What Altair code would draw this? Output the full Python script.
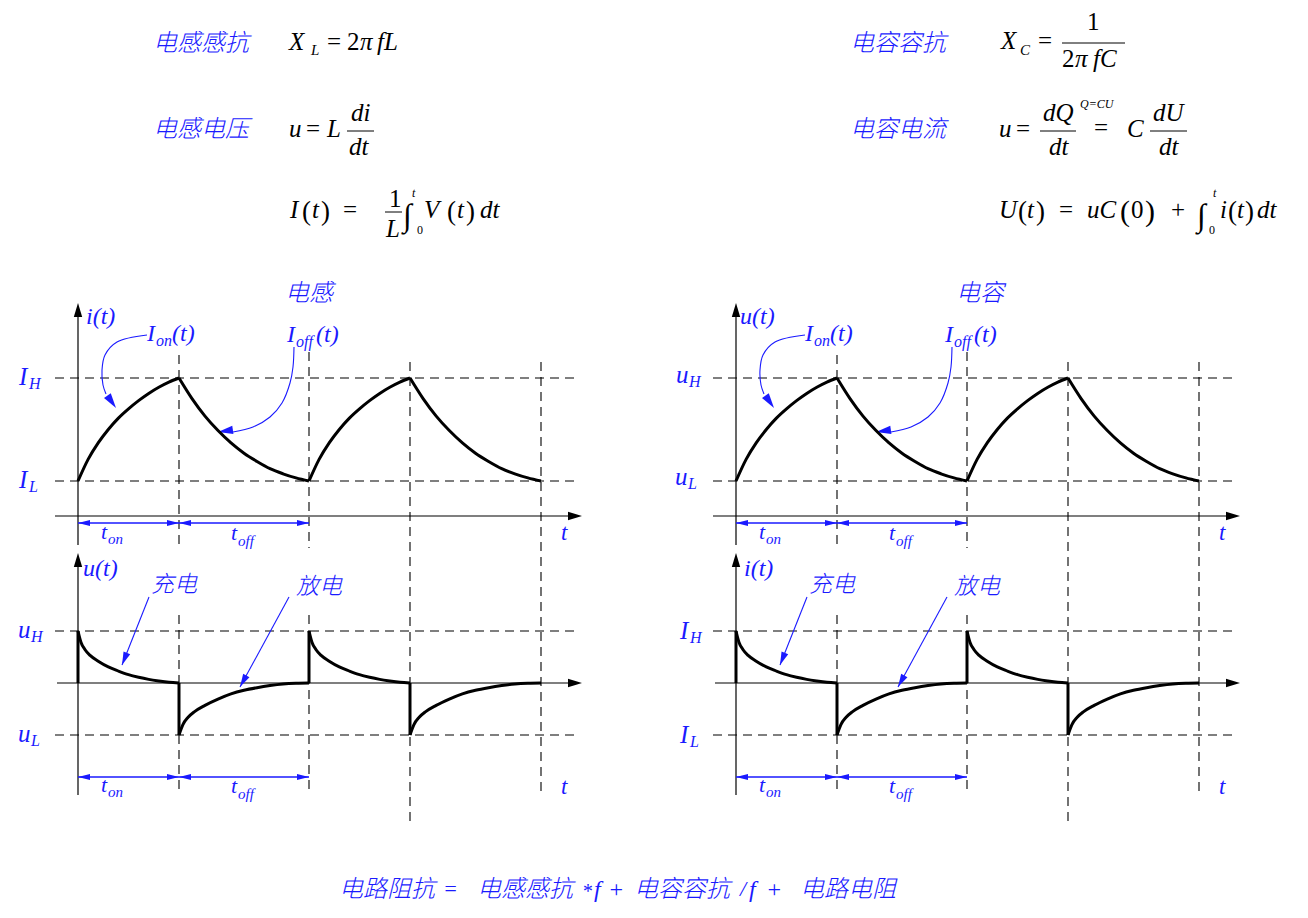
import altair as alt
import pandas as pd

W, H = 1308, 918
BLUE = "#1a1aff"
BLACK = "#000000"
SERIF = "Liberation Serif"
CJK = "Noto Sans CJK SC"

# ---------------- waveform shapes ----------------
# position inside one t_on / t_off interval (0..1) and normalised level
STEP_T = [0.0, 0.1, 0.2, 0.3, 0.4, 0.5, 0.6, 0.7, 0.8, 0.9, 1.0]
RISE_V = [0.0, 0.21, 0.37, 0.50, 0.61, 0.70, 0.78, 0.85, 0.91, 0.96, 1.0]   # low -> high
FALL_V = [1.0, 0.80, 0.63, 0.49, 0.37, 0.27, 0.19, 0.12, 0.07, 0.03, 0.0]   # high -> low
PULSE_T = [0.0, 0.03, 0.07, 0.12, 0.2, 0.3, 0.4, 0.5, 0.6, 0.7, 0.8, 0.9, 1.0]
PULSE_POS = [1.0, 0.78, 0.64, 0.53, 0.42, 0.31, 0.23, 0.16, 0.11, 0.07, 0.04, 0.015, 0.0]
PULSE_NEG = [-1.0, -0.80, -0.66, -0.55, -0.43, -0.31, -0.21, -0.14, -0.09, -0.05, -0.02, -0.005, 0.0]
TOP_SEQ = ["rise", "fall", "rise", "fall"]
BOT_SEQ = ["pos", "neg", "pos", "neg"]

# ---------------- layout (pixel frame of the drawing) ----------------
PANEL_X = [78, 736]                 # vertical axis of left / right panels
SHIFT = PANEL_X[1] - PANEL_X[0]
EDGES = [0, 101, 231, 332, 463]     # switching instants (t_on, t_off, ...)
TOP_HI, TOP_LO, TOP_AXIS = 378, 481, 516
BOT_HI, BOT_ZERO, BOT_LO = 631, 683, 735

xs = alt.Scale(domain=[0, W], nice=False, zero=False)
ys = alt.Scale(domain=[0, H], nice=False, zero=False, reverse=True)


def X(f="x"):
    return alt.X(f"{f}:Q", scale=xs, axis=None)


def Y(f="y"):
    return alt.Y(f"{f}:Q", scale=ys, axis=None)


# ---------------- waveforms ----------------
curve_rows = []
jump_rows = []
for p, x0 in enumerate(PANEL_X):
    e = [x0 + d for d in EDGES]
    for k, kind in enumerate(TOP_SEQ):
        shape = RISE_V if kind == "rise" else FALL_V
        for t, v in zip(STEP_T, shape):
            curve_rows.append(dict(seg=f"p{p}top{k}", x=e[k] + t * (e[k + 1] - e[k]),
                                   y=TOP_LO - v * (TOP_LO - TOP_HI), o=t))
    for k, kind in enumerate(BOT_SEQ):
        shape = PULSE_POS if kind == "pos" else PULSE_NEG
        for t, v in zip(PULSE_T, shape):
            yy = BOT_ZERO - v * (BOT_ZERO - BOT_HI) if v >= 0 else BOT_ZERO - v * (BOT_LO - BOT_ZERO)
            curve_rows.append(dict(seg=f"p{p}bot{k}", x=e[k] + t * (e[k + 1] - e[k]), y=yy, o=t))
        jump_rows.append(dict(x1=e[k], x2=e[k], y1=BOT_ZERO,
                              y2=BOT_HI if kind == "pos" else BOT_LO))
curves = pd.DataFrame(curve_rows)
jumps = pd.DataFrame(jump_rows)

# ---------------- dashed guides, axes ----------------
dash_rows, axis_rows, black_heads, blue_rows, blue_heads = [], [], [], [], []
for x0 in PANEL_X:
    e = [x0 + d for d in EDGES]
    for yy in (TOP_HI, TOP_LO, BOT_HI, BOT_LO):
        dash_rows.append(dict(x1=x0 - 23, x2=x0 + 501, y1=yy, y2=yy))
    dash_rows += [
        dict(x1=e[1], x2=e[1], y1=355, y2=548), dict(x1=e[1], x2=e[1], y1=615, y2=795),
        dict(x1=e[2], x2=e[2], y1=352, y2=548), dict(x1=e[2], x2=e[2], y1=615, y2=795),
        dict(x1=e[3], x2=e[3], y1=362, y2=822), dict(x1=e[4], x2=e[4], y1=362, y2=795),
    ]
    axis_rows += [
        dict(x1=x0, x2=x0, y1=308, y2=545), dict(x1=x0 - 23, x2=x0 + 498, y1=TOP_AXIS, y2=TOP_AXIS),
        dict(x1=x0, x2=x0, y1=558, y2=795), dict(x1=x0 - 21, x2=x0 + 498, y1=BOT_ZERO, y2=BOT_ZERO),
    ]
    black_heads += [
        dict(x=x0, y=303, a=270), dict(x=x0 + 504, y=TOP_AXIS, a=0),
        dict(x=x0, y=553, a=270), dict(x=x0 + 504, y=BOT_ZERO, a=0),
    ]
    for yy in (523, 777):
        blue_rows += [dict(x1=e[0], x2=e[1], y1=yy, y2=yy), dict(x1=e[1], x2=e[2], y1=yy, y2=yy)]
        blue_heads += [dict(x=e[0], y=yy, a=180), dict(x=e[1], y=yy, a=0),
                       dict(x=e[1], y=yy, a=180), dict(x=e[2], y=yy, a=0)]

# annotation arrows of the left panels (copied to the right panels)
ION_PATH = [(147, 335), (117, 342), (105, 355), (102, 370), (103, 385), (106, 394)]
IOFF_PATH = [(294, 347), (293, 367), (290, 383), (282, 403), (270, 417), (253, 427), (233, 432)]
CURVE_TIPS = [(116, 408, 55), (218, 432, 172)]
STRAIGHT = [((149, 597), (122, 665), 112), ((289, 597), (240, 687), 119)]

arrow_rows, thin_rows, ann_heads = [], [], []
for p in range(2):
    dx = p * SHIFT
    for name, path in (("on", ION_PATH), ("off", IOFF_PATH)):
        for i, (px, py) in enumerate(path):
            arrow_rows.append(dict(seg=f"{p}{name}", x=px + dx, y=py, o=i))
    for tx, ty, a in CURVE_TIPS:
        ann_heads.append(dict(x=tx + dx, y=ty, a=a, s=225))
    for (sx, sy), (tx, ty), a in STRAIGHT:
        thin_rows.append(dict(x1=sx + dx, x2=tx + dx, y1=sy, y2=ty))
        ann_heads.append(dict(x=tx + dx, y=ty, a=a, s=170))

# ---------------- texts ----------------
PANEL_TEXT = [  # blue italic serif, repeated in both panels
    ("I", 147, 341, 24), ("on", 156, 346, 16), ("(t)", 172, 341, 24),
    ("I", 287, 342, 24), ("off", 296, 347, 16), ("(t)", 316, 342, 24),
    ("t", 101, 539, 22), ("on", 108, 544, 15),
    ("t", 231, 540, 22), ("off", 238, 546, 15),
    ("t", 561, 540, 23),
    ("t", 101, 792, 22), ("on", 108, 797, 15),
    ("t", 231, 793, 22), ("off", 238, 799, 15),
    ("t", 561, 794, 23),
]
LEFT_TEXT = [
    ("i(t)", 86, 324, 24), ("u(t)", 83, 576, 24),
    ("I", 19, 385, 25), ("H", 29, 389, 16), ("I", 19, 488, 25), ("L", 29, 492, 16),
    ("u", 18, 638, 25), ("H", 31, 642, 16), ("u", 18, 742, 25), ("L", 31, 746, 16),
]
RIGHT_TEXT = [
    ("u(t)", 740, 324, 24), ("i(t)", 744, 576, 24),
    ("u", 676, 383, 25), ("H", 689, 387, 16), ("u", 675, 485, 25), ("L", 688, 489, 16),
    ("I", 680, 639, 25), ("H", 690, 643, 16), ("I", 680, 743, 25), ("L", 690, 747, 16),
]
BOTTOM_LATIN = [("=", 443, 896, 22), ("*", 582, 898, 20), ("f", 594, 897, 24), ("+", 608, 897, 24),
                ("/", 740, 896, 22), ("f", 749, 897, 24), ("+", 766, 897, 24)]
CJK_TEXT = [
    ("电感感抗", 153, 44, 24), ("电感电压", 153, 130, 24),
    ("电容容抗", 850, 44, 24), ("电容电流", 850, 130, 24),
    ("电感", 285, 294, 24), ("电容", 956, 294, 24),
    ("充电", 151, 585, 23), ("放电", 296, 587, 23),
    ("充电", 809, 585, 23), ("放电", 954, 587, 23),
    ("电路阻抗", 339, 890, 24), ("电感感抗", 477, 890, 24),
    ("电容容抗", 634, 890, 24), ("电路电阻", 800, 890, 24),
]
FORMULA_ITALIC = [
    ("X", 289, 50, 25), ("L", 311, 55, 15), ("π", 360, 50, 25), ("fL", 377, 50, 25),
    ("u", 289, 137, 25), ("L", 327, 137, 25), ("di", 351, 121, 25), ("dt", 349, 155, 25),
    ("I", 290, 218, 25), ("t", 312, 218, 25), ("L", 386, 237, 25), ("t", 412, 197, 12),
    ("V", 424, 218, 25), ("t", 457, 218, 25), ("dt", 480, 218, 25),
    ("X", 1001, 49, 25), ("C", 1020, 55, 15), ("π", 1075, 67, 25), ("fC", 1093, 67, 25),
    ("u", 999, 137, 25), ("dQ", 1043, 121, 25), ("dt", 1049, 155, 25), ("Q=CU", 1080, 108, 12),
    ("C", 1127, 137, 25), ("dU", 1153, 121, 25), ("dt", 1159, 155, 25),
    ("U", 999, 218, 25), ("t", 1027, 218, 25), ("uC", 1087, 218, 25), ("t", 1213, 197, 12),
    ("i", 1220, 218, 25), ("t", 1237, 218, 25), ("dt", 1257, 218, 25),
]
FORMULA_UPRIGHT = [
    ("=", 327, 50, 25), ("2", 347, 50, 25),
    ("=", 306, 137, 25),
    ("(", 302, 220, 27), (")", 321, 220, 27), ("=", 343, 218, 25), ("1", 389, 207, 25),
    ("∫", 403, 226, 32), ("0", 417, 234, 12), ("(", 447, 220, 27), (")", 466, 220, 27),
    ("=", 1038, 49, 25), ("1", 1087, 30, 25), ("2", 1062, 67, 25),
    ("=", 1016, 137, 25), ("=", 1094, 136, 25),
    ("(", 1018, 220, 27), (")", 1036, 220, 27), ("=", 1059, 218, 25),
    ("(", 1120, 221, 30), ("0", 1131, 218, 25), (")", 1145, 221, 30), ("+", 1171, 218, 25),
    ("∫", 1197, 226, 32), ("0", 1209, 234, 12), ("(", 1228, 220, 27), (")", 1245, 220, 27),
]
FRACTION_BARS = [(347, 374, 131), (385, 402, 212), (1062, 1125, 43), (1040, 1076, 131), (1150, 1187, 131)]

blue_serif = PANEL_TEXT + [(t, x + SHIFT, y, s) for t, x, y, s in PANEL_TEXT] + LEFT_TEXT + RIGHT_TEXT + BOTTOM_LATIN


def rules(rows, **mk):
    df = pd.DataFrame(rows)
    return alt.Chart(df).mark_rule(**mk).encode(x=X("x1"), x2="x2:Q", y=Y("y1"), y2="y2:Q")


def heads(rows, color, path, size=None):
    df = pd.DataFrame(rows)
    if size is not None:
        df["s"] = size
    return alt.Chart(df).mark_point(shape=path, filled=True, color=color, opacity=1, strokeWidth=0).encode(
        x=X(), y=Y(), angle=alt.Angle("a:Q", scale=None), size=alt.Size("s:Q", scale=None))


def texts(rows, color, font, style, align="left", baseline="alphabetic", weight=None):
    df = pd.DataFrame(rows, columns=["text", "x", "y", "size"])
    kw = dict(color=color, font=font, fontStyle=style, align=align, baseline=baseline)
    if weight is not None:
        kw["fontWeight"] = weight
    return alt.Chart(df).mark_text(**kw).encode(
        x=X(), y=Y(), text="text:N", size=alt.Size("size:Q", scale=None))


HEAD_BLACK = "M0,0 L-2,-0.6 L-2,0.6 Z"
HEAD_BLUE = "M0,0 L-2,-0.5 L-2,0.5 Z"

layers = [
    rules(dash_rows, color=BLACK, strokeWidth=1.1, strokeDash=[9, 6]),
    rules(axis_rows, color=BLACK, strokeWidth=1.2),
    heads(black_heads, BLACK, HEAD_BLACK, 196),
    rules(blue_rows, color=BLUE, strokeWidth=1.5),
    heads(blue_heads, BLUE, HEAD_BLUE, 144),
    alt.Chart(pd.DataFrame(arrow_rows)).mark_line(color=BLUE, strokeWidth=1.1, interpolate="catmull-rom").encode(
        x=X(), y=Y(), detail="seg:N", order="o:Q"),
    rules(thin_rows, color=BLUE, strokeWidth=1.1),
    heads(ann_heads, BLUE, "M0,0 L-2,-0.55 L-2,0.55 Z"),
    alt.Chart(curves).mark_line(color=BLACK, strokeWidth=3, interpolate="monotone", strokeJoin="round").encode(
        x=X(), y=Y(), detail="seg:N", order="o:Q"),
    rules(jumps.to_dict("records"), color=BLACK, strokeWidth=3),
    rules([dict(x1=a, x2=b, y1=c, y2=c) for a, b, c in FRACTION_BARS], color=BLACK, strokeWidth=1),
    texts(blue_serif, BLUE, SERIF, "italic"),
    texts(CJK_TEXT, BLUE, CJK, "italic", baseline="middle", weight=300),
    texts(FORMULA_ITALIC, BLACK, SERIF, "italic"),
    texts(FORMULA_UPRIGHT, BLACK, SERIF, "normal"),
]

chart = alt.layer(*layers).properties(
    width=W, height=H, padding=0, background="white",
    autosize=alt.AutoSizeParams(type="none"),
).configure_view(stroke=None)

chart.save("out.html", embed_options={"renderer": "svg", "actions": False})
